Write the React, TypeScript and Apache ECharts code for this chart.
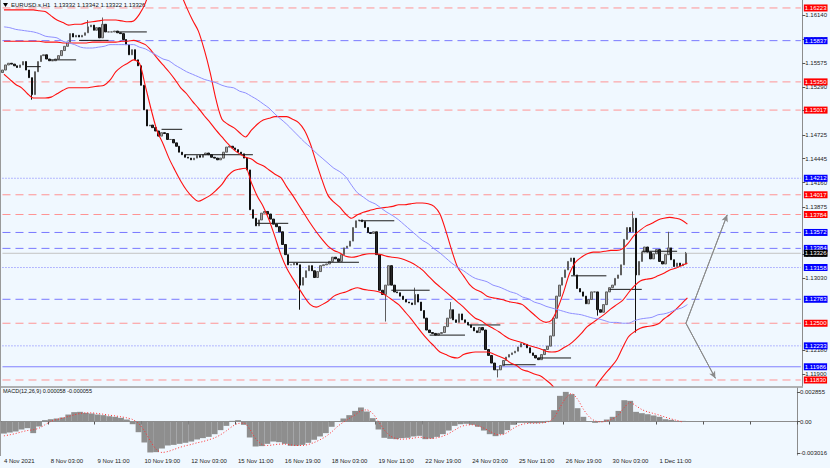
import React, { useEffect, useRef } from 'react';
import * as echarts from 'echarts';

// ---- price data: 2-hour candles (close values) ----
const firstOpen = 1.1546;
const closes = [
  1.1549,1.1555,1.1557,1.1556,1.1554,1.1552,1.1555,1.1559,1.1549,1.1540,
  1.1520,1.1547,1.1559,1.1566,1.1567,1.1562,1.1560,1.1560,1.1562,1.1566,
  1.1572,1.1577,1.1582,1.1592,1.1588,1.1590,1.1588,1.1590,1.1593,1.1600,
  1.1602,1.1596,1.1599,1.1587,1.1603,1.1594,1.1594,1.1594,1.1595,1.1593,
  1.1592,1.1585,1.1579,1.1567,1.1573,1.1561,1.1554,1.1531,1.1502,1.1483,
  1.1484,1.1481,1.1477,1.1471,1.1475,1.1474,1.1467,1.1467,1.1463,1.1459,
  1.1452,1.1449,1.1446,1.1445,1.1443,1.1445,1.1448,1.1446,1.1449,1.1451,
  1.1449,1.1446,1.1445,1.1443,1.1445,1.1452,1.1458,1.1459,1.1457,1.1455,
  1.1452,1.1450,1.1445,1.1431,1.1384,1.1374,1.1365,1.1372,1.1380,1.1382,
  1.1379,1.1373,1.1367,1.1364,1.1358,1.1343,1.1331,1.1319,1.1319,1.1321,
  1.1319,1.1295,1.1304,1.1312,1.1318,1.1312,1.1304,1.1311,1.1318,1.1319,
  1.1320,1.1323,1.1328,1.1326,1.1323,1.1331,1.1339,1.1341,1.1347,1.1363,
  1.1371,1.1372,1.1370,1.1363,1.1357,1.1356,1.1358,1.1331,1.1289,1.1284,
  1.1295,1.1318,1.1295,1.1287,1.1286,1.1282,1.1278,1.1275,1.1274,1.1272,
  1.1284,1.1275,1.1265,1.1256,1.1242,1.1239,1.1238,1.1236,1.1238,1.1239,
  1.1246,1.1256,1.1266,1.1254,1.1251,1.1261,1.1254,1.1251,1.1248,1.1245,
  1.1241,1.1239,1.1245,1.1242,1.1219,1.1212,1.1203,1.1195,1.1195,1.1200,
  1.1206,1.1210,1.1213,1.1215,1.1217,1.1222,1.1226,1.1225,1.1221,1.1215,
  1.1212,1.1209,1.1207,1.1213,1.1219,1.1223,1.1235,1.1256,1.1282,1.1295,
  1.1304,1.1313,1.1323,1.1327,1.1307,1.1291,1.1287,1.1282,1.1273,1.1278,
  1.1287,1.1287,1.1266,1.1263,1.1272,1.1287,1.1292,1.1295,1.1303,1.1307,
  1.1319,1.1349,1.1363,1.1358,1.1374,1.1307,1.1323,1.1334,1.1340,1.1334,
  1.1326,1.1332,1.1337,1.1323,1.1320,1.1331,1.1339,1.1325,1.1317,1.1321,
  1.1318,1.1320,1.13326,
];
// long wicks: [candle index, extreme price]
const highWicks: [number, number][] = [[29,1.1608],[34,1.1611],[140,1.1292],[152,1.1275],[214,1.1382],[226,1.1358],[232,1.13342]];
const lowWicks: [number, number][] = [[10,1.1514],[101,1.1266],[130,1.1252],[168,1.1186],[202,1.1259],[215,1.1239]];

// ---- indicator lines: 4-hour samples ----
const bbUpper = [
  1.1620,1.1620,1.1620,1.1620,1.1620,1.1620,1.1619,1.1618,1.1613,1.1608,
  1.1605,1.1602,1.1603,1.1603,1.1605,1.1606,1.1607,1.1608,1.1608,1.1608,
  1.1607,1.1606,1.1607,1.1615,1.1628,1.1649,1.1667,1.1677,1.1671,1.1661,
  1.1640,1.1623,1.1608,1.1595,1.1573,1.1546,1.1514,1.1491,1.1485,1.1481,
  1.1475,1.1470,1.1478,1.1485,1.1490,1.1492,1.1494,1.1494,1.1494,1.1491,
  1.1487,1.1478,1.1462,1.1440,1.1419,1.1401,1.1393,1.1387,1.1379,1.1374,
  1.1378,1.1381,1.1383,1.1385,1.1386,1.1387,1.1388,1.1390,1.1390,1.1391,
  1.1392,1.1392,1.1391,1.1388,1.1379,1.1359,1.1336,1.1316,1.1306,1.1296,
  1.1290,1.1287,1.1282,1.1280,1.1279,1.1277,1.1275,1.1274,1.1272,1.1266,
  1.1260,1.1254,1.1251,1.1254,1.1268,1.1287,1.1309,1.1322,1.1328,1.1332,
  1.1334,1.1334,1.1335,1.1336,1.1336,1.1338,1.1345,1.1354,1.1360,1.1365,
  1.1368,1.1372,1.1374,1.1375,1.1374,1.1372,1.1367,
];
const bbMiddle = [
  1.1583,1.1583,1.1583,1.1583,1.1583,1.1583,1.1583,1.1582,1.1582,1.1582,
  1.1581,1.1581,1.1581,1.1581,1.1581,1.1582,1.1582,1.1582,1.1582,1.1582,
  1.1583,1.1583,1.1584,1.1582,1.1579,1.1572,1.1563,1.1555,1.1547,1.1538,
  1.1528,1.1521,1.1512,1.1504,1.1495,1.1487,1.1478,1.1470,1.1462,1.1455,
  1.1450,1.1446,1.1444,1.1439,1.1436,1.1431,1.1426,1.1422,1.1411,1.1401,
  1.1390,1.1379,1.1368,1.1358,1.1349,1.1341,1.1336,1.1333,1.1329,1.1328,
  1.1329,1.1331,1.1332,1.1332,1.1331,1.1329,1.1328,1.1327,1.1325,1.1322,
  1.1318,1.1313,1.1306,1.1299,1.1293,1.1287,1.1281,1.1275,1.1269,1.1262,
  1.1256,1.1253,1.1248,1.1244,1.1240,1.1235,1.1231,1.1229,1.1227,1.1224,
  1.1222,1.1220,1.1217,1.1216,1.1217,1.1221,1.1225,1.1231,1.1238,1.1246,
  1.1251,1.1256,1.1261,1.1267,1.1272,1.1277,1.1286,1.1294,1.1300,1.1302,
  1.1303,1.1306,1.1309,1.1313,1.1315,1.1318,1.1321,
];
const bbLower = [
  1.1544,1.1538,1.1532,1.1528,1.1521,1.1516,1.1516,1.1516,1.1517,1.1521,
  1.1525,1.1528,1.1528,1.1528,1.1528,1.1529,1.1530,1.1531,1.1537,1.1547,
  1.1553,1.1557,1.1561,1.1557,1.1530,1.1502,1.1477,1.1462,1.1445,1.1431,
  1.1418,1.1407,1.1399,1.1394,1.1397,1.1401,1.1407,1.1414,1.1424,1.1430,
  1.1432,1.1433,1.1416,1.1400,1.1388,1.1372,1.1352,1.1331,1.1315,1.1303,
  1.1292,1.1281,1.1272,1.1269,1.1272,1.1276,1.1282,1.1285,1.1287,1.1290,
  1.1292,1.1290,1.1289,1.1288,1.1286,1.1282,1.1277,1.1272,1.1264,1.1256,
  1.1247,1.1238,1.1230,1.1223,1.1216,1.1213,1.1210,1.1209,1.1213,1.1215,
  1.1216,1.1216,1.1216,1.1214,1.1211,1.1208,1.1203,1.1200,1.1195,1.1193,
  1.1190,1.1188,1.1183,1.1177,1.1168,1.1157,1.1150,1.1148,1.1155,1.1163,
  1.1171,1.1181,1.1190,1.1198,1.1207,1.1221,1.1234,1.1240,1.1244,1.1246,
  1.1247,1.1249,1.1255,1.1260,1.1266,1.1273,1.1280,
];
const movingAverage = [
  1.1600,1.1599,1.1597,1.1596,1.1595,1.1594,1.1592,1.1589,1.1588,1.1587,
  1.1583,1.1581,1.1579,1.1576,1.1575,1.1575,1.1576,1.1577,1.1579,1.1579,
  1.1579,1.1579,1.1579,1.1576,1.1574,1.1570,1.1566,1.1562,1.1560,1.1555,
  1.1551,1.1547,1.1544,1.1541,1.1538,1.1536,1.1534,1.1531,1.1529,1.1528,
  1.1524,1.1522,1.1518,1.1514,1.1509,1.1504,1.1497,1.1491,1.1485,1.1478,
  1.1471,1.1464,1.1458,1.1451,1.1445,1.1439,1.1433,1.1429,1.1423,1.1413,
  1.1404,1.1399,1.1394,1.1391,1.1386,1.1381,1.1377,1.1372,1.1366,1.1360,
  1.1354,1.1348,1.1344,1.1338,1.1333,1.1327,1.1321,1.1316,1.1312,1.1307,
  1.1303,1.1301,1.1299,1.1295,1.1293,1.1290,1.1287,1.1285,1.1281,1.1279,
  1.1275,1.1273,1.1270,1.1268,1.1266,1.1264,1.1262,1.1261,1.1260,1.1258,
  1.1256,1.1255,1.1253,1.1251,1.1251,1.1250,1.1250,1.1253,1.1255,1.1256,
  1.1257,1.1260,1.1261,1.1263,1.1266,1.1268,1.1272,
];
const macdMain = [
  -0.00116,-0.00106,-0.00096,-0.00077,-0.00064,-0.00112,-0.00048,0.00013,0.00022,0.00029,
  0.00038,0.00067,0.00090,0.00093,0.00083,0.00077,0.00067,0.00061,0.00051,0.00045,
  0.00035,0.00019,-0.00026,-0.00103,-0.00202,-0.00298,-0.00295,-0.00260,-0.00231,-0.00225,
  -0.00215,-0.00205,-0.00193,-0.00173,-0.00160,-0.00148,-0.00122,-0.00083,-0.00042,0.00006,
  0.00013,-0.00032,-0.00154,-0.00240,-0.00237,-0.00215,-0.00193,-0.00199,-0.00215,-0.00234,
  -0.00234,-0.00225,-0.00205,-0.00176,-0.00144,-0.00112,-0.00051,-0.00003,0.00029,0.00061,
  0.00102,0.00135,0.00096,0.00032,-0.00077,-0.00157,-0.00167,-0.00170,-0.00160,-0.00157,
  -0.00144,-0.00138,-0.00170,-0.00164,-0.00148,-0.00122,-0.00087,-0.00042,-0.00026,-0.00022,
  -0.00032,-0.00051,-0.00087,-0.00122,-0.00141,-0.00122,-0.00083,-0.00032,-0.00013,-0.00013,
  -0.00016,-0.00016,-0.00013,0.00006,0.00109,0.00247,0.00285,0.00263,0.00128,0.00045,
  0,-0.00013,-0.00006,0.00019,0.00045,0.00102,0.00205,0.00199,0.00093,0.00080,
  0.00070,0.00058,0.00045,0.00022,0.00016,0.00006,0.000058,
];
const macdSignal = [
  -0.00138,-0.00128,-0.00116,-0.00100,-0.00087,-0.00080,-0.00064,-0.00032,0,0.00019,
  0.00032,0.00048,0.00064,0.00077,0.00083,0.00083,0.00077,0.00070,0.00061,0.00054,
  0.00045,0.00035,0.00019,-0.00019,-0.00090,-0.00186,-0.00266,-0.00298,-0.00289,-0.00270,
  -0.00250,-0.00234,-0.00221,-0.00205,-0.00193,-0.00176,-0.00157,-0.00128,-0.00090,-0.00048,
  -0.00019,-0.00016,-0.00074,-0.00164,-0.00218,-0.00231,-0.00225,-0.00218,-0.00218,-0.00225,
  -0.00231,-0.00231,-0.00221,-0.00202,-0.00176,-0.00144,-0.00100,-0.00048,-0.00006,0.00029,
  0.00064,0.00102,0.00112,0.00077,0,-0.00083,-0.00138,-0.00164,-0.00170,-0.00167,
  -0.00160,-0.00151,-0.00157,-0.00164,-0.00157,-0.00141,-0.00116,-0.00083,-0.00051,-0.00035,
  -0.00032,-0.00042,-0.00064,-0.00093,-0.00122,-0.00128,-0.00106,-0.00067,-0.00038,-0.00022,
  -0.00016,-0.00016,-0.00013,-0.00003,0.00038,0.00135,0.00225,0.00269,0.00215,0.00119,
  0.00045,0.00006,-0.00003,0.00006,0.00025,0.00064,0.00135,0.00183,0.00151,0.00115,
  0.00093,0.00077,0.00061,0.00042,0.00025,0.00010,-0.000055,
];

const dateLabels = ['4 Nov 2021','8 Nov 03:00','9 Nov 11:00','10 Nov 19:00','12 Nov 03:00','15 Nov 11:00','16 Nov 19:00','18 Nov 03:00','19 Nov 11:00','22 Nov 19:00','24 Nov 03:00','25 Nov 11:00','26 Nov 19:00','30 Nov 03:00','1 Dec 11:00'];
// price-scale labels that are not hidden behind the level tags
const priceTicks = [1.16140,1.15857,1.15575,1.15290,1.15010,1.14725,1.14445,1.14160,1.13875,1.13310,1.13030,1.12180,1.11900];
const macdTicks = [0.002855, 0, -0.003016];

const levelPrices = [1.16223,1.15837,1.15350,1.15017,1.14212,1.14017,1.13784,1.13572,1.13384,1.13326,1.13158,1.12783,1.12500,1.12233,1.11986,1.11830];
const levelKinds = ['redDash','blueDash','redDash','redDash','blueDot','redDash','redDash','blueDash','blueDash','current','blueDot','blueDash','redDash','blueDot','blueSolid','redDash'];

// daily reference segments: [start candle, end candle, price]
const dailySegments: [number, number, number][] = [
  [8,13,1.1553],[16,25,1.1561],[26,36,1.1584],[39,49,1.1594],[54,61,1.1479],[62,85,1.1449],
  [86,97,1.1368],[97,121,1.1322],[121,133,1.1371],[132,145,1.1289],[145,157,1.1236],[158,169,1.1248],
  [170,181,1.1201],[182,193,1.1209],[193,205,1.1306],[206,217,1.1290],[217,229,1.1335],
];
// projection arrows: origin, up target, down target [candle slot, price]
const projStart: [number, number] = [232, 1.1250];
const projUp: [number, number] = [246, 1.1378];
const projDown: [number, number] = [242, 1.1185];

const CANDLE_SLOTS = 272;
const LINE_SLOTS = 136;

const FONT = 'Liberation Sans';

const kindStyle: Record<string, { line: any; bg: string }> = {
  redDash: { line: { color: '#ff9494', type: [8, 5], width: 1 }, bg: '#ff0000' },
  blueDash: { line: { color: '#7878ff', type: [8, 5], width: 1 }, bg: '#0000ff' },
  blueDot: { line: { color: '#7878ff', type: [1, 2], width: 1 }, bg: '#0000ff' },
  blueSolid: { line: { color: '#8080ff', type: 'solid', width: 1 }, bg: '#0000ff' },
  current: { line: { color: '#c4c4c4', type: 'solid', width: 1 }, bg: '#000000' },
};

export default function App() {
  const ref = useRef<HTMLDivElement>(null);
  useEffect(() => {
    if (!ref.current) return;
    const chart = echarts.init(ref.current, undefined, { renderer: 'svg' });

    const candles = closes.map((c, i) => {
      const o = i === 0 ? firstOpen : closes[i - 1];
      let hi = Math.max(o, c);
      let lo = Math.min(o, c);
      highWicks.forEach(([k, v]) => { if (k === i) hi = Math.max(hi, v); });
      lowWicks.forEach(([k, v]) => { if (k === i) lo = Math.min(lo, v); });
      return [o, c, lo, hi];
    });

    const candleIdx = Array.from({ length: CANDLE_SLOTS }, (_, i) => String(i));
    const lineIdx = Array.from({ length: LINE_SLOTS }, (_, i) => String(i));
    const lastSlot = CANDLE_SLOTS - 1;

    const levelSeries = levelPrices.map((p, i) => {
      const st = kindStyle[levelKinds[i]];
      return {
        name: 'level ' + p.toFixed(5),
        type: 'line',
        xAxisIndex: 0,
        yAxisIndex: 0,
        data: [[0, p], [lastSlot, p]],
        symbol: 'none',
        silent: true,
        z: 1,
        lineStyle: st.line,
        endLabel: {
          show: true,
          distance: 3,
          formatter: p.toFixed(5),
          color: '#ffffff',
          backgroundColor: st.bg,
          fontSize: 6,
          fontFamily: FONT,
          lineHeight: 7,
          padding: [0, 1, 0, 1],
        },
      };
    });

    const segmentSeries = dailySegments.map(([a, b, p]) => ({
      type: 'line', xAxisIndex: 0, yAxisIndex: 0, data: [[a, p], [b, p]], symbol: 'none', silent: true, z: 3,
      lineStyle: { color: '#1a1a1a', width: 1 },
    }));

    const arrowSeries = [projUp, projDown].map((t) => ({
      type: 'line', xAxisIndex: 0, yAxisIndex: 0, data: [projStart, t], silent: true, z: 3,
      symbol: 'none',
      lineStyle: { color: '#8a8a8a', width: 1 },
      markLine: {
        silent: true, animation: false, symbol: ['none', 'arrow'], symbolSize: [5, 7],
        lineStyle: { color: '#8a8a8a', width: 1, type: 'solid' },
        label: { show: false },
        data: [[{ coord: projStart }, { coord: t }]],
      },
    }));

    const redLine = (name: string, data: number[]) => ({
      name, type: 'line', xAxisIndex: 1, yAxisIndex: 0, data, symbol: 'none', smooth: 0.3,
      lineStyle: { color: '#ff1010', width: 1.1 }, z: 4, silent: true,
    });

    chart.setOption({
      animation: false,
      backgroundColor: '#f0f8ff',
      textStyle: { fontFamily: FONT },
      grid: [
        { left: 1, right: 27, top: 0, height: 386 },
        { left: 1, right: 27, top: 388, height: 67 },
      ],
      xAxis: [
        { type: 'category', gridIndex: 0, data: candleIdx, show: false },
        { type: 'category', gridIndex: 0, data: lineIdx, show: false },
        {
          type: 'category', gridIndex: 1, data: lineIdx,
          axisLine: { show: true, lineStyle: { color: '#8c8c8c' } },
          axisTick: { show: true, interval: 7, length: 3, lineStyle: { color: '#555' } },
          axisLabel: {
            interval: 7, align: 'left', margin: 3, fontSize: 6, color: '#222', fontFamily: FONT,
            formatter: (_v: string, idx: number) => dateLabels[idx / 8] ?? '',
          },
          splitLine: { show: false },
        },
      ],
      yAxis: [
        {
          type: 'value', gridIndex: 0, position: 'right', min: 1.11759, max: 1.16317,
          axisLine: { show: true, lineStyle: { color: '#8c8c8c' } },
          axisTick: { show: true, length: 3, customValues: priceTicks, lineStyle: { color: '#555' } },
          axisLabel: { customValues: priceTicks, margin: 3, fontSize: 6, color: '#222', fontFamily: FONT, formatter: (v: number) => v.toFixed(5) },
          splitLine: { show: false },
        },
        {
          type: 'value', gridIndex: 1, position: 'right', min: -0.003224, max: 0.003224,
          axisLine: { show: true, lineStyle: { color: '#8c8c8c' } },
          axisTick: { show: true, length: 3, customValues: macdTicks, lineStyle: { color: '#555' } },
          axisLabel: {
            customValues: macdTicks, margin: 3, fontSize: 6, color: '#222', fontFamily: FONT,
            formatter: (v: number) => (v === 0 ? '0.00' : v.toFixed(6)),
          },
          splitLine: { show: false },
        },
      ],
      series: [
        ...levelSeries,
        {
          name: 'EURUSD', type: 'candlestick', xAxisIndex: 0, yAxisIndex: 0, data: candles,
          barWidth: 2,
          itemStyle: { color: '#a8a8a8', color0: '#262626', borderColor: '#5e5e5e', borderColor0: '#111111', borderWidth: 1 },
          z: 2,
        },
        ...segmentSeries,
        ...arrowSeries,
        redLine('BB upper', bbUpper),
        redLine('BB middle', bbMiddle),
        redLine('BB lower', bbLower),
        {
          name: 'MA', type: 'line', xAxisIndex: 1, yAxisIndex: 0, data: movingAverage, symbol: 'none', smooth: 0.3,
          lineStyle: { color: '#8f8fff', width: 1 }, z: 4, silent: true,
        },
        {
          name: 'MACD', type: 'bar', xAxisIndex: 2, yAxisIndex: 1, data: macdMain,
          barCategoryGap: '0%', itemStyle: { color: '#8e8e8e' }, silent: true,
        },
        {
          name: 'Signal', type: 'line', xAxisIndex: 2, yAxisIndex: 1, data: macdSignal, symbol: 'none', smooth: 0.3,
          lineStyle: { color: '#ff3030', width: 1, type: [1, 2] }, z: 5, silent: true,
        },
      ],
      graphic: [
        { type: 'line', shape: { x1: 0.5, y1: 0, x2: 0.5, y2: 456 }, style: { stroke: '#9a9a9a', lineWidth: 1 }, silent: true },
        { type: 'line', shape: { x1: 0, y1: 387, x2: 803, y2: 387 }, style: { stroke: '#9a9a9a', lineWidth: 1.5 }, silent: true },
        { type: 'polygon', shape: { points: [[3, 3], [8, 3], [5.5, 7]] }, style: { fill: '#000' }, silent: true },
        {
          type: 'text', x: 11, y: 5, silent: true,
          style: { text: 'EURUSD.s,H1  1.13332 1.13342 1.13322 1.13326', fill: '#111', fontSize: 6, fontFamily: FONT, verticalAlign: 'middle' },
        },
        {
          type: 'text', x: 3, y: 391, silent: true,
          style: { text: 'MACD(12,26,9) 0.000058 -0.000055', fill: '#111', fontSize: 5.5, fontFamily: FONT, verticalAlign: 'middle' },
        },
      ],
    });
    return () => chart.dispose();
  }, []);
  return <div ref={ref} style={{ position: 'absolute', left: 0, top: 0, width: 830, height: 468 }} />;
}
